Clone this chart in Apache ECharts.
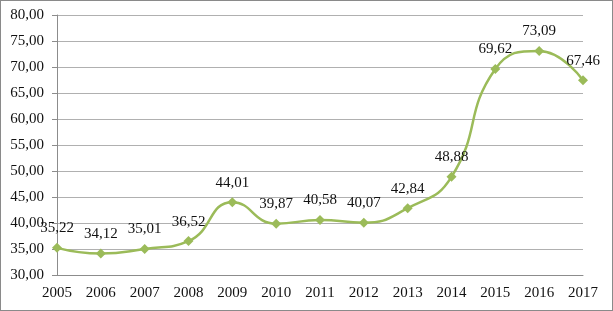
<!DOCTYPE html>
<html>
<head>
<meta charset="utf-8">
<script src="https://cdn.jsdelivr.net/npm/echarts@6/dist/echarts.min.js"></script>
<style>
html,body{margin:0;padding:0;background:#fff;}
#c{position:absolute;left:0;top:0;width:613px;height:311px;box-sizing:border-box;border:1px solid #8a8a8a;}
</style>
</head>
<body>
<div id="c"></div>
<script>
const years = ['2005','2006','2007','2008','2009','2010','2011','2012','2013','2014','2015','2016','2017'];
const values = [35.22, 34.12, 35.01, 36.52, 44.01, 39.87, 40.58, 40.07, 42.84, 48.88, 69.62, 73.09, 67.46];
const yMin = 30, yMax = 80, yStep = 5;

const fmt = v => Number(v).toFixed(2).replace('.', ',');
const chart = echarts.init(document.getElementById('c'), null, {renderer:'canvas'});
chart.setOption({
  animation:false,
  grid:{left:56, right:29, top:14, bottom:35},
  xAxis:{
    type:'category', data:years, boundaryGap:false,
    axisLine:{lineStyle:{color:'#8c8c8c', width:1}},
    axisTick:{show:false},
    axisLabel:{color:'#111', fontFamily:'Liberation Serif', fontSize:15, margin:11},
    splitLine:{show:false}
  },
  yAxis:{
    type:'value', min:yMin, max:yMax, interval:yStep,
    axisLine:{show:true, lineStyle:{color:'#8c8c8c', width:1}},
    axisTick:{show:true, length:5, lineStyle:{color:'#8c8c8c'}},
    axisLabel:{color:'#111', fontFamily:'Liberation Serif', fontSize:15, margin:13, formatter:fmt},
    splitLine:{show:true, lineStyle:{color:'#b0b0b0', width:1}}
  },
  series:[{
    type:'line', data:values, smooth:0.5,
    symbol:'diamond', symbolSize:10,
    lineStyle:{color:'#9bbb59', width:2.5},
    itemStyle:{color:'#9bbb59'},
    label:{show:true, position:'top', distance:7, color:'#111', fontFamily:'Liberation Serif', fontSize:15, formatter:p=>fmt(p.value)}
  }]
});
</script>
</body>
</html>
